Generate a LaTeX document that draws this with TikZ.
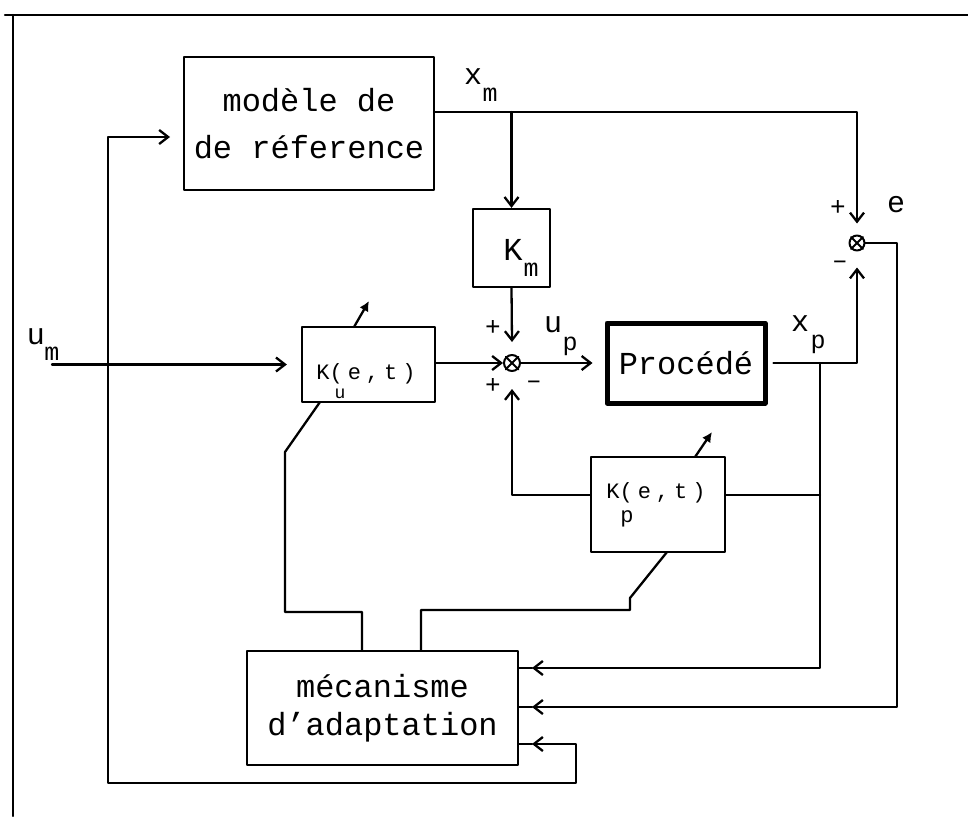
\documentclass[tikz,border=0pt]{standalone}
\usepackage{fontspec}
\setmainfont{Liberation Mono}
\usetikzlibrary{arrows.meta}
\newcommand{\gsp}{\hspace{5pt}}
\begin{document}
\begin{tikzpicture}[x=1pt,y=-1pt, line width=2.3pt, line cap=round, line join=round,
  >={Straight Barb[length=9pt,width=14pt,line width=2.3pt]},
  adj/.style={-{Latex[length=10pt,width=10pt]}, line width=2.3pt},
  blk/.style={draw, line width=2.3pt, inner sep=0pt},
  lbl/.style={inner sep=0pt, font=\fontsize{30}{30}\selectfont},
  sublbl/.style={inner sep=0pt, font=\fontsize{25}{25}\selectfont},
  sgn/.style={inner sep=0pt, font=\fontsize{26}{26}\selectfont},
  gain/.style={inner sep=0pt, font=\fontsize{22}{22}\selectfont},
  sumj/.style={draw, circle, minimum size=16pt, inner sep=0pt, line width=2pt},
]
\useasboundingbox (0,0) rectangle (968,816);

% frame
\coordinate (ftl) at (13,15);
\coordinate (ftr) at (968,15);
\coordinate (fbl) at (13,816);
\draw (5,15) -- (ftr);
\draw (ftl) -- (fbl);

% blocks
\node[blk, minimum width=250pt, minimum height=133pt, align=center,
      font=\fontsize{32}{47}\selectfont] (modele) at (309,123.5) {modèle de\\de réference};
\node[blk, minimum width=77pt, minimum height=78pt] (km) at (511.5,248) {};
\node[inner sep=0pt, font=\fontsize{32}{32}\selectfont] (kmK) at (513,250) {K};
\node[sublbl] (kmm) at (531,270) {m};

\node[blk, minimum width=133pt, minimum height=75pt] (ku) at (368.5,364.5) {};
\node[gain] (kut) at (366,374) {K(\gsp e\gsp ,\gsp t\gsp )};
\node[inner sep=0pt, font=\fontsize{18}{18}\selectfont] (kuu) at (340,394) {u};

\node[draw, line width=5pt, minimum width=158pt, minimum height=80pt, inner sep=0pt,
      font=\fontsize{32}{32}\selectfont] (proc) at (686,363) {Procédé};

\node[blk, minimum width=134pt, minimum height=95pt] (kp) at (658,504.5) {};
\node[gain] (kpt) at (656,493) {K(\gsp e\gsp ,\gsp t\gsp )};
\node[inner sep=0pt, font=\fontsize{22}{22}\selectfont] (kpp) at (627,519) {p};

\node[blk, minimum width=271pt, minimum height=114pt, align=center,
      font=\fontsize{32}{38}\selectfont] (mec) at (382.5,708) {mécanisme\\d'adaptation};

% summing junctions
\node[sumj] (s1) at (512,363) {};
\draw[line width=1.8pt] (s1.north west) -- (s1.south east) (s1.north east) -- (s1.south west);
\node[sumj, minimum size=15pt] (s2) at (857,243) {};
\draw[line width=1.8pt] (s2.north west) -- (s2.south east) (s2.north east) -- (s2.south west);

% labels
\node[lbl] (xmx) at (473,77) {x};
\node[sublbl] (xmm) at (490,95) {m};
\node[lbl] (umu) at (36,337) {u};
\node[sublbl] (umm) at (52,354) {m};
\node[lbl] (upu) at (553,325) {u};
\node[sublbl] (upp) at (570,346) {p};
\node[lbl] (xpx) at (800,324) {x};
\node[sublbl] (xpp) at (818,344) {p};
\node[lbl] (el) at (896,205) {e};
\node[sgn] (pl1) at (493,328) {+};
\node[sgn] (pl2) at (493,386) {+};
\node[sgn] (mi1s) at (534,385) {–};
\node[sgn] (pl3) at (838,208) {+};
\node[sgn] (mi2s) at (840,265) {–};

% coordinates
\coordinate (xmo) at (434,112);
\coordinate (umin) at (52,364.5);
\coordinate (xpj) at (820,363);
\coordinate (kpl) at (0,495);
\coordinate (ec) at (897,707);
\coordinate (mi1) at (532,668);
\coordinate (mi2) at (532,707);
\coordinate (mi3) at (532,744);
\coordinate (lp1) at (576,783);
\coordinate (lp2) at (108,137);
\coordinate (mdi) at (170,137);
\coordinate (a1) at (362,612);
\coordinate (a2) at (285,452);
\coordinate (kub) at (320,402);
\coordinate (kut1) at (354,327);
\coordinate (kut2) at (369,301);
\coordinate (b1) at (421,610);
\coordinate (b2) at (630,598);
\coordinate (kpb) at (667,552);
\coordinate (kpt1) at (695,457);
\coordinate (kpt2) at (712,432);

% signal connectors
\draw[->] (xmo) -| ([yshift=11pt]s2.north);
\draw[->] (km.north |- xmo) -- (km.north);
\draw[->] (km.south) -- ([yshift=12pt]s1.north);
\draw[->] (umin) -- ([xshift=-14pt]ku.west);
\draw[->] (ku.east |- s1) -- (s1.west);
\draw[->] (s1.east) -- ([xshift=-12pt]proc.west);
\draw[->] ([xshift=6pt]proc.east) -| ([yshift=-16pt]s2.south);
\draw[->] (xpj) |- (mi1);
\draw (mi1) -- (mec.east |- mi1);
\draw (kp.east |- kpl) -- (xpj |- kpl);
\draw[->] (kp.west |- kpl) -| ([yshift=-17pt]s1.south);
\draw[->] (s2.east) -| (ec) -- (mi2);
\draw (mi2) -- (mec.east |- mi2);
\draw[<->] (mi3) -| (lp1) -| (lp2) -- (mdi);
\draw (mi3) -- (mec.east |- mi3);

% adaptation links
\draw (mec.north -| a1) -- (a1) -| (a2) -- (kub);
\draw[adj] (kut1) -- (kut2);
\draw (mec.north -| b1) -- (b1) -| (b2) -- (kpb);
\draw[adj] (kpt1) -- (kpt2);
\end{tikzpicture}
\end{document}
